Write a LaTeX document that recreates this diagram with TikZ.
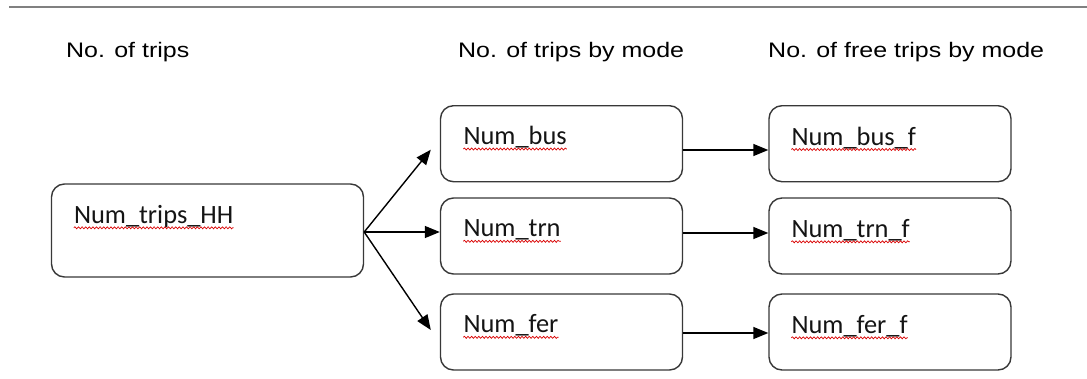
\documentclass[tikz,border=0pt]{standalone}
\usepackage{fontspec}
\setmainfont{Liberation Sans}
\newfontfamily\boxfont{Carlito}
\usetikzlibrary{arrows.meta,decorations.pathmorphing,calc}
\newcommand{\wide}[1]{\scalebox{1.19}[1]{#1}}

\begin{document}
\begin{tikzpicture}[x=1pt,y=-1pt,
  box/.style={draw=black!78, line width=1.4pt, rounded corners=13pt,
              inner sep=0pt, minimum height=76pt, minimum width=242pt},
  hdr/.style={anchor=base west, inner sep=0pt, text=black,
              font=\fontsize{21}{24}\selectfont},
  lbl/.style={anchor=base west, inner sep=0pt, text=black!92,
              font=\boxfont\fontsize{26.4}{30}\selectfont},
  wavy/.style={draw=red!85!black, line width=0.7pt,
               decorate, decoration={snake, segment length=3.6pt, amplitude=1pt}},
  arr/.style={draw=black, line width=1.4pt,
              -{Triangle[length=15pt,width=12pt]}},
  rule/.style={draw=black!50, line width=2pt}
]
\useasboundingbox (0,0) rectangle (1087,378);

% rule at the top of the figure
\coordinate (ruleL) at (9,7);
\coordinate (ruleR) at (1087,7);
\draw[rule] (ruleL) -- (ruleR);

% column headings
\node[hdr] (hd1) at (66,57.5)  {\wide{No. of trips}};
\node[hdr] (hd2) at (458,57.5) {\wide{No. of trips by mode}};
\node[hdr] (hd3) at (768,57.5) {\wide{No. of free trips by mode}};

% boxes
\node[box, minimum width=312pt, minimum height=93pt] (hh) at (207.5,230.5) {};
\node[box] (bus)  at (561.5,143.7) {};
\node[box] (trn)  at (561.5,236)   {};
\node[box] (fer)  at (561.5,332)   {};
\node[box] (busf) at (890,143.7)   {};
\node[box] (trnf) at (890,236)     {};
\node[box] (ferf) at (890,332)     {};

% box labels
\node[lbl] (thh)   at ($(hh.north west)+(23,40)$)   {Num\_trips\_HH};
\node[lbl] (tbus)  at ($(bus.north west)+(23.5,39.5)$)  {Num\_bus};
\node[lbl] (ttrn)  at ($(trn.north west)+(23.5,39.5)$)  {Num\_trn};
\node[lbl] (tfer)  at ($(fer.north west)+(23.5,39.5)$)  {Num\_fer};
\node[lbl] (tbusf) at ($(busf.north west)+(23,40)$) {Num\_bus\_f};
\node[lbl] (ttrnf) at ($(trnf.north west)+(23,40)$) {Num\_trn\_f};
\node[lbl] (tferf) at ($(ferf.north west)+(23,40)$) {Num\_fer\_f};

% spell-check underlines
\foreach \t in {thh,tbus,ttrn,tfer,tbusf,ttrnf,tferf}{
  \draw[wavy] ($(\t.base west)+(0,4.5)$) -- ($(\t.base east)+(0,4.5)$);
}

% connectors
\coordinate (hhout) at ($(hh.east)+(0,1.5)$);
\draw[arr] (hhout) -- ($(bus.west)+(-9,6)$);
\draw[arr] (hhout) -- (trn.west |- hhout);
\draw[arr] (hhout) -- ($(fer.west)+(-9,-2)$);

\draw[arr] ($(bus.east)+(0,6.3)$)  -- ($(busf.west)+(0,6.3)$);
\draw[arr] ($(trn.east)+(0,-3)$) -- ($(trnf.west)+(0,-3)$);
\draw[arr] ($(fer.east)+(0,1)$)  -- ($(ferf.west)+(0,1)$);
\end{tikzpicture}
\end{document}
